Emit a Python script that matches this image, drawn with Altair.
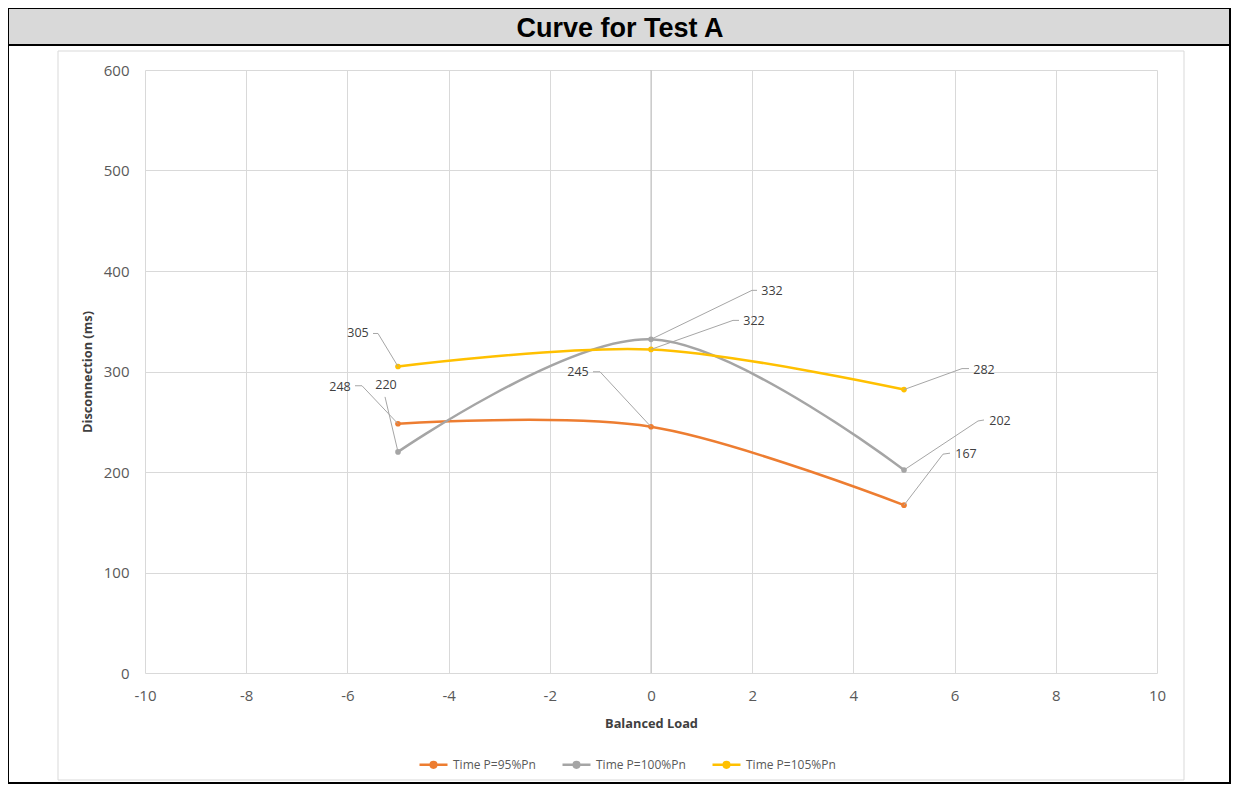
import altair as alt
import pandas as pd

# ---------------- data ----------------
series_names = ["Time P=95%Pn", "Time P=100%Pn", "Time P=105%Pn"]
series_colors = ["#ED7D31", "#A5A5A5", "#FFC000"]
balanced_load = [-5, 0, 5]
time_95 = [248, 245, 167]
time_100 = [220, 332, 202]
time_105 = [305, 322, 282]
series_values = [time_95, time_100, time_105]

x_ticks = list(range(-10, 11, 2))
y_ticks = list(range(0, 601, 100))
chart_title = "Curve for Test A"
x_title = "Balanced Load"
y_title = "Disconnection (ms)"

# ---------------- layout (pixels) ----------------
W, H = 1012, 603
X_DOM = [-10, 10]
Y_DOM = [0, 600]
PX_X = (X_DOM[1] - X_DOM[0]) / W
PX_Y = (Y_DOM[1] - Y_DOM[0]) / H

# per-label pixel offsets from its point: leader elbow, stub end, text centre
label_layout = [
    [((-36, -38), (-43, -38), (-58, -37)),
     ((-51, -55), (-58, -55), (-73, -55)),
     ((39, -51), (46, -52), (62, -51))],
    [((-13, -55), (-13, -55), (-12, -67)),
     ((101, -49), (106, -49), (121, -48)),
     ((74, -49), (80, -50), (96, -49))],
    [((-20, -33), (-25, -33), (-40, -33)),
     ((82, -29), (88, -29), (103, -28)),
     ((58, -21), (65, -21), (80, -20))],
]

rows, lead, labels = [], [], []
for s, name in enumerate(series_names):
    for i, xv in enumerate(balanced_load):
        yv = series_values[s][i]
        rows.append({"series": name, "x": xv, "y": yv})
        (ex, ey), (sx, sy), (tx, ty) = label_layout[s][i]
        exd, eyd = xv + ex * PX_X, yv - ey * PX_Y
        sxd, syd = xv + sx * PX_X, yv - sy * PX_Y
        lead.append({"x": xv, "y": yv, "x2": exd, "y2": eyd})
        lead.append({"x": exd, "y": eyd, "x2": sxd, "y2": syd})
        labels.append({"x": xv + tx * PX_X, "y": yv - ty * PX_Y, "t": str(yv)})

df = pd.DataFrame(rows)
df_lead = pd.DataFrame(lead)
df_lab = pd.DataFrame(labels)

FONT = "Open Sans"
xs = alt.Scale(domain=X_DOM, nice=False, zero=False)
ys = alt.Scale(domain=Y_DOM, nice=False, zero=False)
color = alt.Color(
    "series:N",
    scale=alt.Scale(domain=series_names, range=series_colors),
    sort=series_names,
    legend=alt.Legend(
        title=None, orient="none", legendX=273, legendY=679, direction="horizontal",
        symbolType="M-1,0L1,0M0.2,0A0.2,0.2,0,1,1,-0.2,0A0.2,0.2,0,1,1,0.2,0",
        symbolSize=784, symbolStrokeWidth=2.5, labelFont=FONT, labelFontSize=12,
        labelColor="#595959", labelOffset=4, columnPadding=21, padding=0,
    ),
)

one = alt.Data(values=[{}])

outer = alt.Chart(one).mark_rect(fill="transparent", stroke="black", strokeWidth=2).encode(
    x=alt.value(-137), x2=alt.value(1085), y=alt.value(-62), y2=alt.value(713))
frame = alt.Chart(one).mark_rect(fill="transparent", stroke="#D9D9D9", strokeWidth=1).encode(
    x=alt.value(-87), x2=alt.value(1039), y=alt.value(-19), y2=alt.value(710))
title_bar = alt.Chart(one).mark_rect(fill="#D9D9D9", stroke="black", strokeWidth=2).encode(
    x=alt.value(-137), x2=alt.value(1085), y=alt.value(-62), y2=alt.value(-25))
title_txt = alt.Chart(alt.Data(values=[{"t": chart_title}])).mark_text(
    font="Liberation Sans", fontWeight="bold", fontSize=27, color="black",
    align="center", baseline="middle").encode(
    x=alt.value(475), y=alt.value(-41), text="t:N")

base = alt.Chart(df).encode(
    x=alt.X("x:Q", scale=xs, axis=alt.Axis(
        values=x_ticks, title=x_title, grid=True, gridColor="#D9D9D9", domain=False,
        ticks=False, labelFlush=False, labelPadding=15, labelFont=FONT, labelFontSize=15,
        labelColor="#595959", labelExpr="'' + datum.value",
        titleFont=FONT, titleFontSize=12.8, titleFontWeight="bold", titleColor="#404040",
        titleX=506, titleY=50, titleBaseline="middle", titleAlign="center")),
    y=alt.Y("y:Q", scale=ys, axis=alt.Axis(
        values=y_ticks, title=y_title, grid=True, gridColor="#D9D9D9", domain=False,
        ticks=False, labelFlush=False, labelPadding=16, labelFont=FONT, labelFontSize=15,
        labelColor="#595959",
        titleFont=FONT, titleFontSize=12.8, titleFontWeight="bold", titleColor="#404040",
        titleX=-58, titleY=301.5, titleAngle=-90, titleBaseline="middle", titleAlign="center")),
)

zero_line = alt.Chart(alt.Data(values=[{"x": 0}])).mark_rule(color="#BFBFBF", strokeWidth=1).encode(
    x=alt.X("x:Q", scale=xs))

lines = base.mark_line(interpolate="cardinal", strokeWidth=2.5).encode(color=color)
points = base.mark_circle(size=32, opacity=1).encode(
    color=alt.Color("series:N", scale=alt.Scale(domain=series_names, range=series_colors), legend=None))

leaders = alt.Chart(df_lead).mark_rule(color="#A6A6A6", strokeWidth=1).encode(
    x=alt.X("x:Q", scale=xs), y=alt.Y("y:Q", scale=ys), x2="x2:Q", y2="y2:Q")
texts = alt.Chart(df_lab).mark_text(font=FONT, fontSize=12.5, color="#404040",
                                    align="center", baseline="middle").encode(
    x=alt.X("x:Q", scale=xs), y=alt.Y("y:Q", scale=ys), text="t:N")

chart = alt.layer(
    outer, frame, title_bar, title_txt, zero_line, lines, points, leaders, texts
).properties(
    width=W, height=H,
    autosize=alt.AutoSizeParams(type="none"),
    padding={"left": 137, "top": 62, "right": 74, "bottom": 111},
    background="white",
).configure_view(stroke=None)

chart.save("out.html", embed_options={"renderer": "svg", "actions": False})
